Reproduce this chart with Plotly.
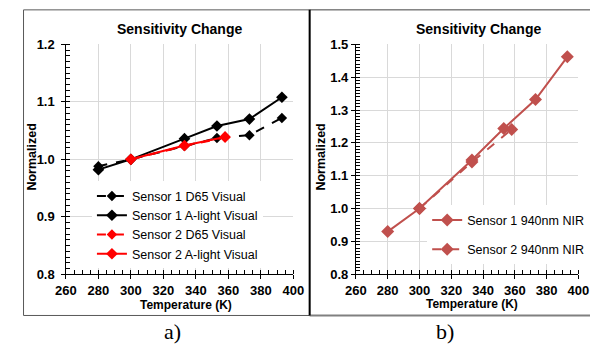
import plotly.graph_objects as go

# ---- data ----
temp_s1 = [280, 300, 333, 353, 373, 393]
temp_s2 = [300, 333, 358]
s1_d65 = [0.988, 1.000, 1.023, 1.037, 1.042, 1.072]
s1_alight = [0.982, 1.000, 1.036, 1.058, 1.070, 1.108]
s2_d65 = [1.000, 1.023, 1.038]
s2_alight = [1.000, 1.024, 1.039]
nir_s1 = [0.930, 1.000, 1.148, 1.244, 1.332, 1.462]
nir_s2 = [1.000, 1.142, 1.241]

W, H = 601, 357
def fx(px): return px / W
def fy(py): return 1 - py / H

fig = go.Figure()
BLACK = "#000000"
RED = "#ff0000"
NIR = "#c0504d"

fig.add_trace(go.Scatter(x=temp_s1, y=s1_d65, name="Sensor 1 D65 Visual", mode="lines+markers",
                         line=dict(color=BLACK, width=2, dash="dash"),
                         marker=dict(symbol="diamond", size=8, color=BLACK),
                         xaxis="x", yaxis="y", legend="legend"))
fig.add_trace(go.Scatter(x=temp_s1, y=s1_alight, name="Sensor 1 A-light Visual", mode="lines+markers",
                         line=dict(color=BLACK, width=2),
                         marker=dict(symbol="diamond", size=9, color=BLACK),
                         xaxis="x", yaxis="y", legend="legend"))
fig.add_trace(go.Scatter(x=temp_s2, y=s2_d65, name="Sensor 2 D65 Visual", mode="lines+markers",
                         line=dict(color=RED, width=2, dash="dash"),
                         marker=dict(symbol="diamond", size=8, color=RED),
                         xaxis="x", yaxis="y", legend="legend"))
fig.add_trace(go.Scatter(x=temp_s2, y=s2_alight, name="Sensor 2 A-light Visual", mode="lines+markers",
                         line=dict(color=RED, width=2),
                         marker=dict(symbol="diamond", size=9, color=RED),
                         xaxis="x", yaxis="y", legend="legend"))

fig.add_trace(go.Scatter(x=temp_s2, y=nir_s2, name="Sensor 2 940nm NIR", mode="lines+markers",
                         line=dict(color=NIR, width=2, dash="dash"),
                         marker=dict(symbol="diamond", size=10, color=NIR),
                         xaxis="x2", yaxis="y2", legend="legend2", legendgroup="b", legendrank=2))
fig.add_trace(go.Scatter(x=temp_s1, y=nir_s1, name="Sensor 1 940nm NIR", mode="lines+markers",
                         line=dict(color=NIR, width=2),
                         marker=dict(symbol="diamond", size=10, color=NIR),
                         xaxis="x2", yaxis="y2", legend="legend2", legendgroup="a", legendrank=1))

FONT = "Liberation Sans"
tickfont = dict(family=FONT, size=13, color="#000", weight="bold")
GRID = "#d9d9d9"

def xax(domain, anchor):
    return dict(domain=domain, anchor=anchor, range=[260, 400], dtick=20, tick0=260,
                showgrid=True, gridcolor=GRID, gridwidth=1, zeroline=False,
                showline=True, linecolor="#000", linewidth=1,
                ticks="outside", ticklen=4, tickwidth=1, tickcolor="#000",
                minor=dict(dtick=5, tick0=260, ticks="inside", ticklen=4, tickwidth=1,
                           tickcolor="#000", showgrid=False),
                tickfont=tickfont, fixedrange=True)

def yax(domain, anchor, rng, suffix):
    return dict(domain=domain, anchor=anchor, range=rng, dtick=0.1, tick0=0.8, tickformat=".1f",
                ticksuffix=suffix,
                showgrid=True, gridcolor=GRID, gridwidth=1, zeroline=False,
                showline=True, linecolor="#000", linewidth=1,
                ticks="outside", ticklen=4, tickwidth=1, tickcolor="#000",
                minor=dict(dtick=0.01, tick0=0.8, ticks="inside", ticklen=4, tickwidth=1,
                           tickcolor="#000", showgrid=False),
                tickfont=tickfont, fixedrange=True)

ydom = [fy(279), fy(39)]
fig.update_layout(
    width=W, height=H, margin=dict(l=0, r=0, t=0, b=0),
    paper_bgcolor="white", plot_bgcolor="white",
    xaxis=xax([fx(57), fx(293)], "y"),
    yaxis=yax(ydom, "x", [0.8, 1.2], "\u00a0"),
    xaxis2=xax([fx(358), fx(589)], "y2"),
    yaxis2=yax(ydom, "x2", [0.8, 1.5], ""),
    legend=dict(x=fx(84), y=fy(182), xanchor="left", yanchor="top",
                bgcolor="white", borderwidth=0, itemwidth=30,
                font=dict(family=FONT, size=12.5, color="#000"), tracegroupgap=0,
                traceorder="normal"),
    legend2=dict(x=fx(432), y=fy(207), xanchor="left", yanchor="top",
                 bgcolor="white", borderwidth=0, itemwidth=30,
                 font=dict(family=FONT, size=12.5, color="#000"), tracegroupgap=10,
                 traceorder="grouped"),
    showlegend=True,
)

anns = [
    dict(text="Sensitivity Change", x=fx(175), y=fy(23), size=14),
    dict(text="Sensitivity Change", x=fx(485), y=fy(23), size=14),
    dict(text="Temperature (K)", x=fx(182), y=fy(311), size=12),
    dict(text="Temperature (K)", x=fx(479), y=fy(310), size=12),
    dict(text="Normalized", x=fx(22), y=fy(157), size=12.5, angle=-90),
    dict(text="Normalized", x=fx(322), y=fy(157), size=12.5, angle=-90),
]
for a in anns:
    fig.add_annotation(text=a["text"], x=a["x"], y=a["y"], xref="paper", yref="paper",
                       xanchor="center", yanchor="middle", showarrow=False,
                       textangle=a.get("angle", 0),
                       font=dict(family=FONT, size=a["size"], color="#000", weight="bold"))
for t, x in [("a)", 168), ("b)", 450)]:
    fig.add_annotation(text=t, x=fx(x), y=fy(339), xref="paper", yref="paper",
                       xanchor="center", yanchor="middle", showarrow=False,
                       font=dict(family="Liberation Serif", size=22, color="#000"))

# panel borders
fig.add_shape(type="rect", xref="paper", yref="paper", x0=fx(13), x1=fx(310), y0=fy(322), y1=fy(3),
              line=dict(color="#595959", width=1))
fig.add_shape(type="line", xref="paper", yref="paper", x0=fx(310), x1=fx(601), y0=fy(3), y1=fy(3),
              line=dict(color="#404040", width=1))
fig.add_shape(type="line", xref="paper", yref="paper", x0=fx(310), x1=fx(601), y0=fy(322), y1=fy(322),
              line=dict(color="#808080", width=2))
fig.add_shape(type="line", xref="paper", yref="paper", x0=fx(310), x1=fx(310), y0=fy(322), y1=fy(3),
              line=dict(color="#000", width=2))

fig.write_html("out.html")
